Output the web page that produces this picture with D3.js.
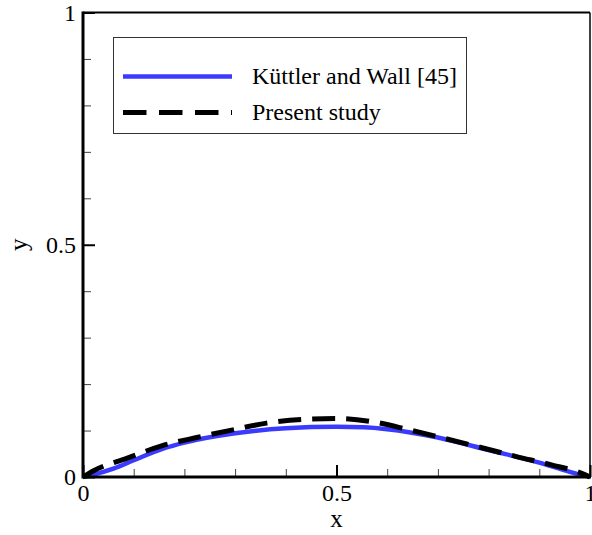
<!DOCTYPE html>
<html>
<head>
<meta charset="utf-8">
<script src="https://cdn.jsdelivr.net/npm/d3@7"></script>
<style>
  html, body { margin: 0; padding: 0; background: #fff; }
  svg text { font-family: "Times New Roman", "Liberation Serif", "DejaVu Serif", serif; }
</style>
</head>
<body>
<svg id="chart" width="592" height="535"></svg>
<script>
// Küttler and Wall [45]
const kuttlerX = [0, 0.02, 0.06, 0.1, 0.158, 0.2, 0.3, 0.4, 0.5, 0.553, 0.6, 0.7, 0.8, 0.9, 0.96, 1];
const kuttlerY = [0, 0.005, 0.018, 0.036, 0.061, 0.074, 0.094, 0.105, 0.108, 0.107, 0.103, 0.085, 0.058, 0.031, 0.011, 0];

// Present study
const presentX = [0, 0.02, 0.086, 0.155, 0.224, 0.293, 0.362, 0.433, 0.5, 0.576, 0.645, 0.714, 0.783, 0.855, 0.924, 0.986, 1];
const presentY = [0, 0.013, 0.040, 0.067, 0.085, 0.101, 0.116, 0.124, 0.126, 0.118, 0.101, 0.083, 0.064, 0.044, 0.026, 0.007, 0];

const majorTicks = [0, 0.5, 1];
const majorLabels = ['0', '0.5', '1'];
const minorTicks = [0.1, 0.2, 0.3, 0.4, 0.6, 0.7, 0.8, 0.9];

const legendNames = ['Küttler and Wall [45]', 'Present study'];

const margin = { top: 12.5, right: 2, bottom: 58, left: 83 };

const svg = d3.select('#chart');
const W = +svg.attr('width');
const H = +svg.attr('height');
const w = W - margin.left - margin.right;
const h = H - margin.top - margin.bottom;

const x = d3.scaleLinear().domain([0, 1]).range([margin.left, margin.left + w]);
const y = d3.scaleLinear().domain([0, 1]).range([margin.top + h, margin.top]);

const line = d3.line()
  .x(d => x(d[0]))
  .y(d => y(d[1]))
  .curve(d3.curveMonotoneX);

// curves
svg.append('path')
  .datum(kuttlerX.map((v, i) => [v, kuttlerY[i]]))
  .attr('d', line)
  .attr('fill', 'none')
  .attr('stroke', '#3b3bff')
  .attr('stroke-width', 4.5);

svg.append('path')
  .datum(presentX.map((v, i) => [v, presentY[i]]))
  .attr('d', line)
  .attr('fill', 'none')
  .attr('stroke', '#000')
  .attr('stroke-width', 5)
  .attr('stroke-dasharray', '23,11');

// frame: thin top/right, thick left/bottom
svg.append('line')
  .attr('x1', x(0)).attr('x2', x(1)).attr('y1', y(1)).attr('y2', y(1))
  .attr('stroke', '#000').attr('stroke-width', 2);
svg.append('line')
  .attr('x1', x(1)).attr('x2', x(1)).attr('y1', y(0)).attr('y2', y(1))
  .attr('stroke', '#000').attr('stroke-width', 1.5);

// axes with inward ticks
const xMajor = d3.axisBottom(x).tickValues(majorTicks).tickSize(-12).tickFormat((d, i) => majorLabels[i]);
const xMinor = d3.axisBottom(x).tickValues(minorTicks).tickSize(-8).tickFormat('');
const yMajor = d3.axisLeft(y).tickValues(majorTicks).tickSize(-12).tickFormat((d, i) => majorLabels[i]);
const yMinor = d3.axisLeft(y).tickValues(minorTicks).tickSize(-8).tickFormat('');

const gxMinor = svg.append('g').attr('transform', `translate(0,${y(0)})`).call(xMinor);
const gyMinor = svg.append('g').attr('transform', `translate(${x(0)},0)`).call(yMinor);
[gxMinor, gyMinor].forEach(g => {
  g.select('.domain').remove();
  g.selectAll('.tick line').attr('stroke', '#444').attr('stroke-width', 1);
});

const gx = svg.append('g').attr('transform', `translate(0,${y(0)})`).call(xMajor);
const gy = svg.append('g').attr('transform', `translate(${x(0)},0)`).call(yMajor);
[gx, gy].forEach(g => {
  g.select('.domain').remove();
  g.selectAll('.tick line').attr('stroke', '#000').attr('stroke-width', 2);
  g.attr('font-family', null);
  g.selectAll('.tick text')
    .attr('font-size', 24)
    .attr('fill', '#000');
});
gx.selectAll('.tick text').attr('y', 7).attr('dy', '0.71em');
gy.selectAll('.tick text').attr('x', -7).attr('dy', '0.32em');

svg.append('line')
  .attr('x1', x(0)).attr('x2', x(1) + 1).attr('y1', y(0)).attr('y2', y(0))
  .attr('stroke', '#000').attr('stroke-width', 3);
svg.append('line')
  .attr('x1', x(0)).attr('x2', x(0)).attr('y1', y(0) + 1.5).attr('y2', y(1) - 1)
  .attr('stroke', '#000').attr('stroke-width', 3);

// axis titles
svg.append('text')
  .attr('x', x(0.5)).attr('y', 527)
  .attr('text-anchor', 'middle')
  .attr('font-size', 25)
  .text('x');
svg.append('text')
  .attr('transform', `translate(27,${y(0.5)}) rotate(-90)`)
  .attr('text-anchor', 'middle')
  .attr('font-size', 25)
  .text('y');

// legend
const legend = svg.append('g');
legend.append('rect')
  .attr('x', 113.5).attr('y', 37.5)
  .attr('width', 353).attr('height', 96)
  .attr('fill', '#fff').attr('stroke', '#333').attr('stroke-width', 1);

const legendStyles = [
  { stroke: '#3b3bff', width: 4.5, dash: null },
  { stroke: '#000', width: 5, dash: '23.5,12.5' }
];
const legendY = d3.scalePoint().domain(legendNames).range([76.5, 112.5]);

legendNames.forEach((name, i) => {
  const yy = legendY(name);
  legend.append('line')
    .attr('x1', 123).attr('x2', 232).attr('y1', yy).attr('y2', yy)
    .attr('stroke', legendStyles[i].stroke)
    .attr('stroke-width', legendStyles[i].width)
    .attr('stroke-dasharray', legendStyles[i].dash);
  legend.append('text')
    .attr('x', 252).attr('y', yy).attr('dy', '0.32em')
    .attr('font-size', 24)
    .text(name);
});
</script>
</body>
</html>
